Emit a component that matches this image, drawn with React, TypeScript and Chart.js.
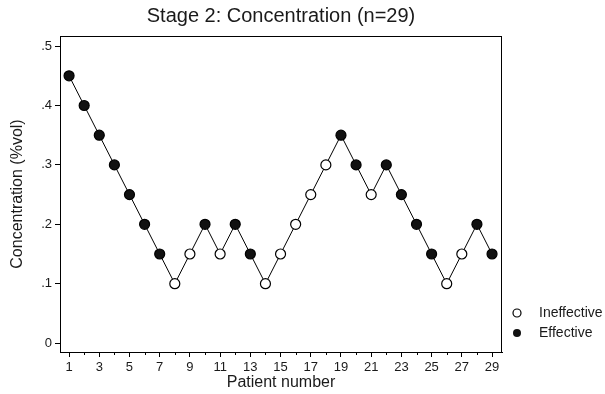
import React, { useEffect, useRef } from "react";
import { Chart, registerables } from "chart.js";

Chart.register(...registerables);

const patients = [1,2,3,4,5,6,7,8,9,10,11,12,13,14,15,16,17,18,19,20,21,22,23,24,25,26,27,28,29];
const concentration = [0.45,0.40,0.35,0.30,0.25,0.20,0.15,0.10,0.15,0.20,0.15,0.20,0.15,0.10,0.15,0.20,0.25,0.30,0.35,0.30,0.25,0.30,0.25,0.20,0.15,0.10,0.15,0.20,0.15];
// E = effective (filled), I = ineffective (open)
const outcome = ["E","E","E","E","E","E","E","I","I","E","I","E","E","I","I","I","I","I","E","E","I","E","E","E","E","I","I","E","E"];
const yTicks = [0, 0.1, 0.2, 0.3, 0.4, 0.5];
const legendLabels = ["Ineffective", "Effective"];
const chartTitle = "Stage 2: Concentration (n=29)";

const TEXT = "#1a1a1a";
const FONT = "'Liberation Sans', Arial, Helvetica, sans-serif";

export default function App() {
  const ref = useRef<HTMLCanvasElement | null>(null);
  useEffect(() => {
    document.body.style.margin = "0";
    const canvas = ref.current!;
    const framePlugin = {
      id: "frame",
      afterDraw(chart: any) {
        const { ctx, chartArea } = chart;
        const xs = chart.scales.x;
        ctx.save();
        ctx.strokeStyle = "#000";
        ctx.lineWidth = 1;
        ctx.strokeRect(chartArea.left + 0.5, chartArea.top + 0.5, chartArea.right - chartArea.left - 1, chartArea.bottom - chartArea.top);
        // minor ticks
        ctx.beginPath();
        for (const p of patients) {
          if (p % 2 === 0) {
            const x = Math.round(xs.getPixelForValue(p)) + 0.5;
            ctx.moveTo(x, chartArea.bottom);
            ctx.lineTo(x, chartArea.bottom + 3);
          }
        }
        ctx.stroke();
        // title
        ctx.fillStyle = TEXT;
        ctx.font = `20px ${FONT}`;
        ctx.textAlign = "center";
        ctx.textBaseline = "middle";
        ctx.fillText(chartTitle, (chartArea.left + chartArea.right) / 2, 16);
        // legend
        ctx.textAlign = "left";
        ctx.font = `14px ${FONT}`;
        const lx = 517, ly = [313, 333];
        legendLabels.forEach((lab, i) => {
          ctx.beginPath();
          ctx.arc(lx, ly[i], 4, 0, Math.PI * 2);
          if (i === 0) {
            ctx.fillStyle = "#fff";
            ctx.fill();
            ctx.strokeStyle = "#000";
            ctx.lineWidth = 1.2;
            ctx.stroke();
          } else {
            ctx.fillStyle = "#111";
            ctx.fill();
          }
          ctx.fillStyle = TEXT;
          ctx.fillText(lab, 539, ly[i]);
        });
        ctx.restore();
      },
    };
    const chart = new Chart(canvas, {
      type: "line",
      data: {
        datasets: [
          {
            data: patients.map((p, i) => ({ x: p, y: concentration[i] })),
            borderColor: "#000",
            borderWidth: 1,
            pointRadius: 5,
            pointBorderWidth: 1.2,
            pointBorderColor: "#000",
            pointBackgroundColor: outcome.map((o) => (o === "E" ? "#111" : "#fff")),
            tension: 0,
          },
        ],
      },
      options: {
        responsive: false,
        animation: false,
        layout: { padding: { left: 0, right: 103, top: 36, bottom: 0 } },
        plugins: {
          legend: { display: false },
          tooltip: { enabled: false },
          title: { display: false },
        },
        scales: {
          x: {
            type: "linear",
            min: 0.4,
            max: 29.66,
            afterBuildTicks: (s: any) => {
              s.ticks = patients.map((v) => ({ value: v }));
            },
            afterFit: (s: any) => {
              s.height = 42;
            },
            grid: {
              drawOnChartArea: false,
              tickLength: 5,
              color: (c: any) => (c.tick && c.tick.value % 2 === 1 ? "#000" : "rgba(0,0,0,0)"),
            },
            border: { display: true, color: "#000", width: 1 },
            ticks: {
              autoSkip: false,
              maxRotation: 0,
              padding: 3,
              color: TEXT,
              font: { family: FONT, size: 13 },
              callback: (v: any) => (Number(v) % 2 === 1 ? String(v) : ""),
            },
            title: {
              display: true,
              text: "Patient number",
              color: TEXT,
              font: { family: FONT, size: 16 },
              padding: { top: 0, bottom: 1.4 },
            },
          },
          y: {
            type: "linear",
            min: -0.015,
            max: 0.517,
            afterBuildTicks: (s: any) => {
              s.ticks = yTicks.map((v) => ({ value: v }));
            },
            afterFit: (s: any) => {
              s.width = 60;
            },
            grid: { drawOnChartArea: false, tickLength: 5, color: "#000" },
            border: { display: true, color: "#000", width: 1 },
            ticks: {
              padding: 3,
              color: TEXT,
              font: { family: FONT, size: 13 },
              callback: (v: any) => {
                const n = Number(v);
                return n === 0 ? "0" : "." + Math.round(n * 10);
              },
            },
            title: {
              display: true,
              text: "Concentration (%vol)",
              color: TEXT,
              font: { family: FONT, size: 16 },
              padding: { top: 8.4, bottom: 0 },
            },
          },
        },
      },
      plugins: [framePlugin],
    });
    return () => chart.destroy();
  }, []);
  return (
    <div style={{ width: 605, height: 394 }}>
      <canvas ref={ref} width={605} height={394} />
    </div>
  );
}
